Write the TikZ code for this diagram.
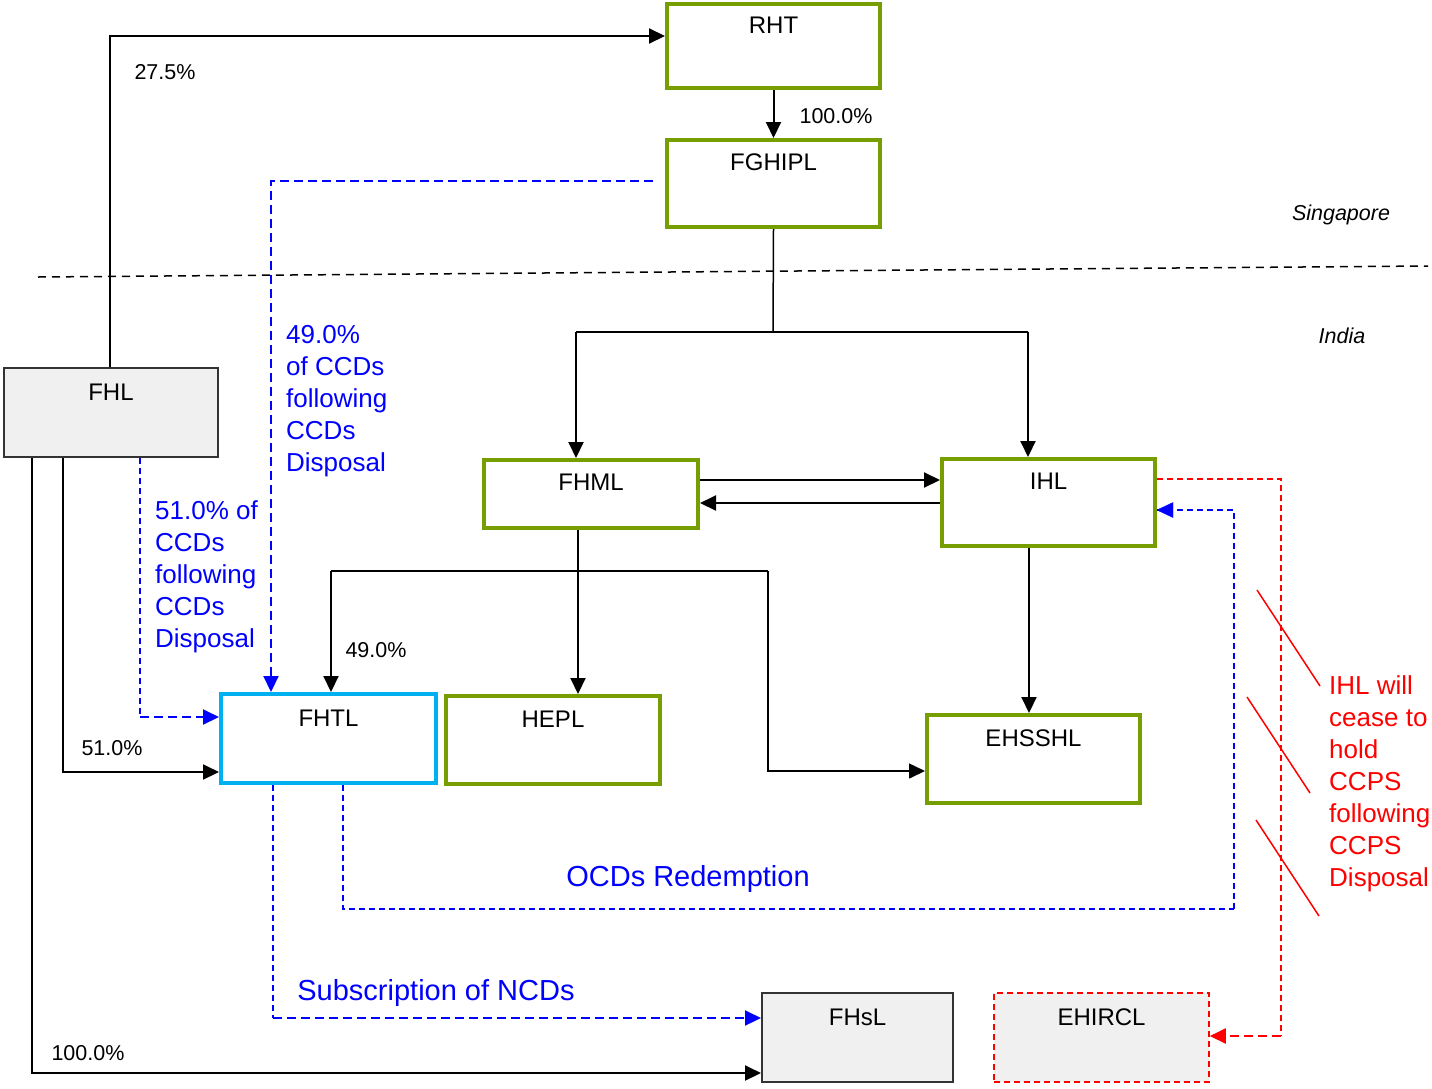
\documentclass[tikz,border=0pt]{standalone}
\usepackage{fontspec}
\setmainfont{Liberation Sans}
\usetikzlibrary{arrows.meta}
\definecolor{grn}{RGB}{119,158,0}
\definecolor{cyn}{RGB}{0,176,240}
\definecolor{gfill}{RGB}{240,240,240}
\definecolor{bl}{RGB}{0,0,255}
\definecolor{rd}{RGB}{255,0,0}
\begin{document}
\begin{tikzpicture}[x=1pt,y=-1pt,
  ent/.style={rectangle, inner sep=0pt, line width=4pt, draw=grn, fill=white},
  entc/.style={rectangle, inner sep=0pt, line width=4pt, draw=cyn, fill=white},
  entg/.style={rectangle, inner sep=0pt, line width=2pt, draw=black!80, fill=gfill},
  entr/.style={rectangle, inner sep=0pt, line width=1.5pt, draw=rd, fill=gfill, dash pattern=on 6pt off 4pt},
  lbl/.style={font=\fontsize{24}{28}\selectfont, inner sep=0pt, anchor=base},
  pct/.style={font=\fontsize{21.5}{25}\selectfont, inner sep=0pt, anchor=base},
  reg/.style={font=\fontsize{21.5}{25}\selectfont\itshape, inner sep=0pt, anchor=base},
  bltxt/.style={text=bl, font=\fontsize{26}{32}\selectfont, align=left, inner sep=0pt, anchor=north west},
  rdtxt/.style={text=rd, font=\fontsize{26}{32}\selectfont, align=left, inner sep=0pt, anchor=north west},
  bigbl/.style={text=bl, font=\fontsize{29}{34}\selectfont, inner sep=0pt, anchor=base},
  tip/.style={-{Triangle[length=16pt,width=15pt]}},
  conn/.style={line width=2pt, black, tip},
  thinl/.style={line width=1.5pt, black},
  bdash/.style={bl, line width=2pt, dash pattern=on 9pt off 5pt},
  bthin/.style={bl, line width=1.5pt, dash pattern=on 6pt off 4pt},
  rthin/.style={rd, line width=1.5pt, dash pattern=on 6pt off 4pt},
  rdash/.style={rd, line width=2pt, dash pattern=on 9pt off 5pt},
]
\useasboundingbox (0,0) rectangle (1432,1088);

% separator
\coordinate (sepA) at (38,277);
\coordinate (sepB) at (1428,266);
\draw[line width=1.5pt, dash pattern=on 8pt off 6pt] (sepA) -- (sepB);
\node[reg] (sg) at (1341,220) {Singapore};
\node[reg] (in) at (1342,343) {India};

% boxes
\node[ent, minimum width=213pt, minimum height=84pt] (RHT) at (773.5,46) {};
\node[ent, minimum width=213pt, minimum height=87pt] (FGHIPL) at (773.5,183.5) {};
\node[entg, minimum width=214pt, minimum height=89pt] (FHL) at (111,412.5) {};
\node[ent, minimum width=214pt, minimum height=68pt] (FHML) at (591,494) {};
\node[ent, minimum width=213pt, minimum height=87pt] (IHL) at (1048.5,502.5) {};
\node[entc, minimum width=215pt, minimum height=89pt] (FHTL) at (328.5,738.5) {};
\node[ent, minimum width=214pt, minimum height=88pt] (HEPL) at (553,740) {};
\node[ent, minimum width=213pt, minimum height=88pt] (EHSSHL) at (1033.5,759) {};
\node[entg, minimum width=191pt, minimum height=89pt] (FHsL) at (857.5,1037.5) {};
\node[entr, minimum width=215pt, minimum height=89pt] (EHIRCL) at (1101.5,1037.5) {};

% box texts
\node[lbl] (tRHT) at ([yshift=-31pt]RHT.north) {RHT};
\node[lbl] (tFGHIPL) at ([yshift=-32pt]FGHIPL.north) {FGHIPL};
\node[lbl] (tFHL) at ([yshift=-33pt]FHL.north) {FHL};
\node[lbl] (tFHML) at ([yshift=-32pt]FHML.north) {FHML};
\node[lbl] (tIHL) at ([yshift=-32pt]IHL.north) {IHL};
\node[lbl] (tFHTL) at ([yshift=-34pt]FHTL.north) {FHTL};
\node[lbl] (tHEPL) at ([yshift=-33pt]HEPL.north) {HEPL};
\node[lbl] (tEHSSHL) at ([yshift=-33pt]EHSSHL.north) {EHSSHL};
\node[lbl] (tFHsL) at ([yshift=-33pt]FHsL.north) {FHsL};
\node[lbl] (tEHIRCL) at ([yshift=-33pt]EHIRCL.north) {EHIRCL};

% black connectors
\draw[conn] ([xshift=-1pt]FHL.north) |- ([yshift=10pt]RHT.west);
\draw[conn] (RHT.south) -- (FGHIPL.north);
\coordinate (j1) at (773,332);
\coordinate (jL) at (576,332);
\coordinate (jR) at (1028,332);
\draw[thinl] (FGHIPL.south) -- (j1);
\draw[thinl] (jL) -- (jR);
\draw[conn] (jL) -- (jL |- FHML.north);
\draw[conn] (jR) -- (jR |- IHL.north);
\draw[conn] ([yshift=14pt]FHML.east) -- ([yshift=14pt]FHML.east -| IHL.west);
\draw[conn] ([yshift=-0.5pt]IHL.west) -- ([yshift=-0.5pt]IHL.west -| FHML.east);
\draw[conn] ([xshift=-13pt]FHML.south) -- ([xshift=-13pt]FHML.south |- HEPL.north);
\coordinate (k1) at (331,571);
\coordinate (k2) at (768,571);
\draw[thinl] (k1) -- (k2);
\draw[conn] (k1) -- (k1 |- FHTL.north);
\draw[conn, line width=1.5pt] (k2) |- ([yshift=-12pt]EHSSHL.west);
\draw[conn] ([xshift=-19.5pt]IHL.south) -- ([xshift=-19.5pt]IHL.south |- EHSSHL.north);
\draw[conn] ([xshift=-48pt]FHL.south) |- ([yshift=-33.5pt]FHTL.west);
\draw[conn] ([xshift=-79pt]FHL.south) |- ([yshift=-35.5pt]FHsL.west);

% percentages
\node[pct] (p275) at (165,79.5) {27.5\%};
\node[pct] (p100a) at (836,123.5) {100.0\%};
\node[pct] (p49) at (376,657.5) {49.0\%};
\node[pct] (p51) at (112,755.5) {51.0\%};
\node[pct] (p100b) at (88,1060.5) {100.0\%};

% blue dashed flows
\coordinate (b51) at (140,717);
\draw[bthin] ([xshift=29pt]FHL.south) -- (b51);
\draw[bdash, tip] (b51) -- ([yshift=21.5pt]FHTL.west);
\draw[bdash, tip] ([xshift=-12pt,yshift=2.5pt]FGHIPL.west) -| ([xshift=-57.5pt]FHTL.north);
\coordinate (o1) at (1234,909);
\draw[bthin] ([xshift=14.5pt]FHTL.south) |- (o1);
\draw[bthin] (o1) |- ([yshift=-7.5pt]IHL.east);
\draw[bl, fill=bl] ([yshift=-7.5pt]IHL.east) -- ++(16,-7.5) -- ++(0,15) -- cycle;
\coordinate (s1) at (273,1018);
\draw[bthin] ([xshift=-55.5pt]FHTL.south) -- (s1);
\draw[bdash, tip] (s1) -- ([yshift=19.5pt]FHsL.west);

% red dashed flow
\coordinate (r1) at (1281,1036);
\draw[rthin] ([yshift=23.5pt]IHL.east) -| (r1);
\draw[rdash, tip] (r1) -- ([yshift=1.5pt]EHIRCL.east);
\draw[rd, line width=1.5pt] (1257,590) -- (1320,686);
\draw[rd, line width=1.5pt] (1247,697) -- (1310,793);
\draw[rd, line width=1.5pt] (1256,820) -- (1319,916);

% texts
\node[bltxt] (l49) at (286,325) {49.0\%\\of CCDs\\following\\CCDs\\Disposal};
\node[bltxt] (l51) at (155,500) {51.0\% of\\CCDs\\following\\CCDs\\Disposal};
\node[rdtxt] (lred) at (1329,675) {IHL will\\cease to\\hold\\CCPS\\following\\CCPS\\Disposal};
\node[bigbl] (ocd) at (688,886) {OCDs Redemption};
\node[bigbl] (sub) at (436,1000) {Subscription of NCDs};
\end{tikzpicture}
\end{document}
